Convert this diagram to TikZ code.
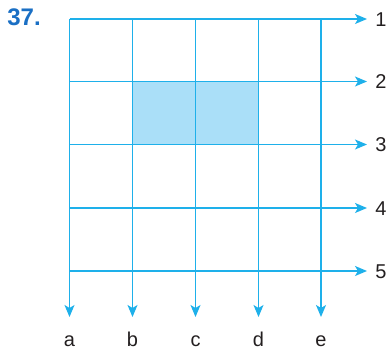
\documentclass[tikz,border=0pt]{standalone}
\usepackage{fontspec}
\setmainfont{Liberation Sans}
\usetikzlibrary{arrows.meta}
\definecolor{gridblue}{HTML}{1EB0EA}
\definecolor{fillblue}{HTML}{AADFF8}
\definecolor{titleblue}{HTML}{1A6FC4}
\definecolor{labelgray}{HTML}{231F20}
\tikzset{
  gridline/.style={draw=gridblue, line width=1.4pt},
  arrowline/.style={gridline, -{Stealth[length=12pt,width=10pt,inset=3pt]}},
  lbl/.style={font=\fontsize{20}{24}\selectfont, text=labelgray, inner sep=0pt, anchor=base},
}
\begin{document}
\begin{tikzpicture}[x=1pt,y=-1pt]
\useasboundingbox (0,0) rectangle (388,351);
% shaded cells
\fill[fillblue] (132.5,81.5) rectangle (258.5,144.5);
% coordinates
\foreach \i/\x in {1/69.5,2/132.5,3/195.5,4/258.5,5/321}{
  \coordinate (vt\i) at (\x,19);
  \coordinate (vb\i) at (\x,317);
}
\foreach \j/\y in {1/19,2/81.5,3/144.5,4/208,5/271}{
  \coordinate (hl\j) at (69.5,\y);
  \coordinate (hr\j) at (367,\y);
}
% lines
\foreach \i in {1,...,5}{
  \draw[arrowline] (hl\i) -- (hr\i);
  \draw[arrowline] (vt\i) -- (vb\i);
}
% labels
\foreach \j/\y/\t in {1/26/1,2/88.5/2,3/151.5/3,4/215/4,5/278/5}{
  \node[lbl] (r\j) at (381,\y) {\t};
}
\foreach \i/\x/\t in {1/69.5/a,2/132.5/b,3/195.5/c,4/258.5/d,5/321/e}{
  \node[lbl] (c\i) at (\x,346) {\t};
}
\node[font=\bfseries\fontsize{24}{28}\selectfont, text=titleblue, inner sep=0pt, anchor=base] (title) at (24,25) {37.};
\end{tikzpicture}
\end{document}
